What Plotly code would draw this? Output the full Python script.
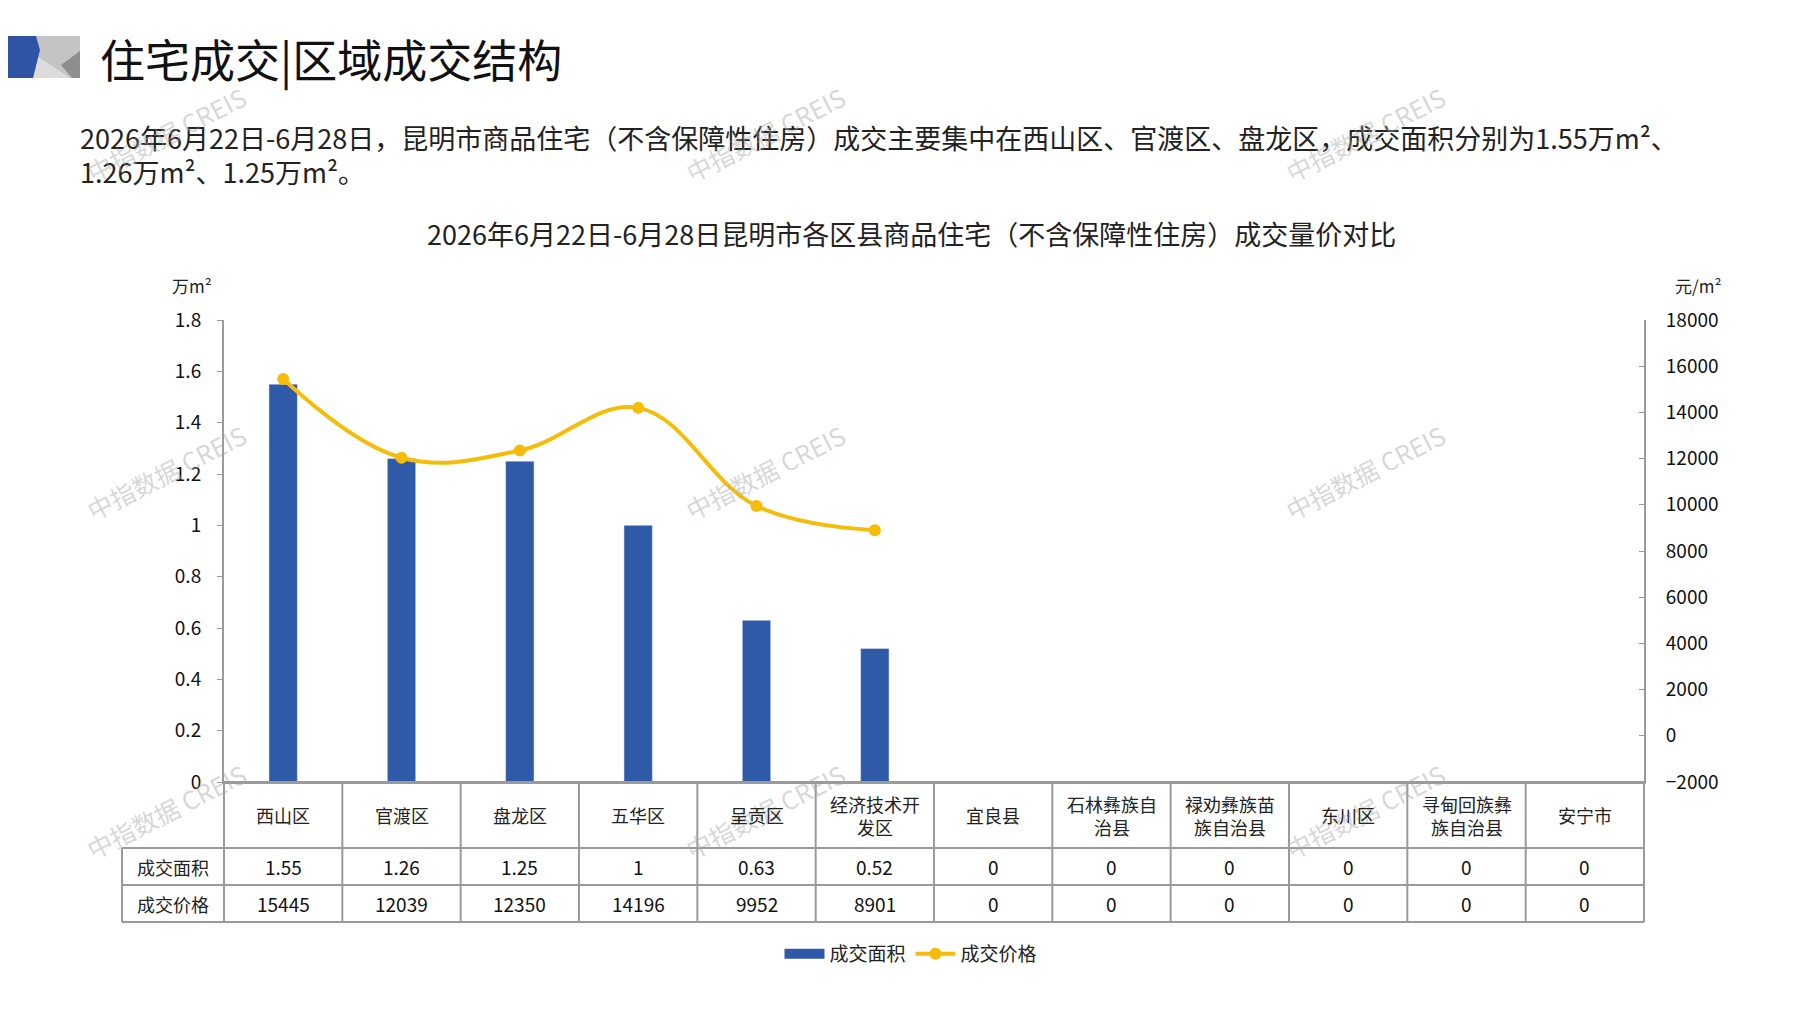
import plotly.graph_objects as go

# ---- data ----
districts = ["西山区", "官渡区", "盘龙区", "五华区", "呈贡区", "经济技术开发区",
             "宜良县", "石林彝族自治县", "禄劝彝族苗族自治县", "东川区",
             "寻甸回族彝族自治县", "安宁市"]
header_labels = ["西山区", "官渡区", "盘龙区", "五华区", "呈贡区", "经济技术开<br>发区",
                 "宜良县", "石林彝族自<br>治县", "禄劝彝族苗<br>族自治县", "东川区",
                 "寻甸回族彝<br>族自治县", "安宁市"]
area = [1.55, 1.26, 1.25, 1, 0.63, 0.52, 0, 0, 0, 0, 0, 0]          # 万m²
price = [15445, 12039, 12350, 14196, 9952, 8901, 0, 0, 0, 0, 0, 0]  # 元/m²

title_text = "住宅成交|区域成交结构"
para_lines = [
    "2026年6月22日-6月28日，昆明市商品住宅（不含保障性住房）成交主要集中在西山区、官渡区、盘龙区，成交面积分别为1.55万m²、",
    "1.26万m²、1.25万m²。",
]
chart_title = "2026年6月22日-6月28日昆明市各区县商品住宅（不含保障性住房）成交量价对比"

BLUE = "#2E5AA7"
GOLD = "#F5BD0A"
GRID = "#9A9A9A"
FONT = "Noto Sans CJK SC"

W, H = 1797, 1010
L, R, T, B = 216, 1636, 312, 774   # plot area in pixels


def px(x):
    return (x - L) / (R - L)


def py(y):
    return (B - y) / (B - T)


def label(x, y, text, size, color="#222", anchor="center", angle=0):
    return dict(x=px(x), y=py(y), xref="paper", yref="paper", text=text,
                showarrow=False, xanchor=anchor, yanchor="middle", textangle=angle,
                font=dict(size=size, color=color, family=FONT))


n = len(districts)

fig = go.Figure()
fig.add_trace(go.Bar(
    x=districts, y=area, name="成交面积", marker_color=BLUE, width=0.24, showlegend=False,
))
# legend stand-in so the bar key is drawn as a wide block
fig.add_trace(go.Scatter(
    x=[None], y=[None], name="成交面积", mode="lines", line=dict(color=BLUE, width=13),
))
fig.add_trace(go.Scatter(
    x=districts[:6], y=price[:6], name="成交价格", yaxis="y2",
    mode="lines+markers", line=dict(color=GOLD, width=4, shape="spline", smoothing=1.1),
    marker=dict(size=12, color=GOLD),
))

annotations = []
shapes = []

# header block
annotations.append(label(90, 50, title_text, 45, "#111", "left"))
for i, line in enumerate(para_lines):
    annotations.append(label(70, 129 + 34 * i, line, 27, "#222", "left"))
annotations.append(label(903, 225, chart_title, 27))
annotations.append(label(184, 277, "万m²", 17))
annotations.append(label(1690, 277, "元/m²", 17))


# logo
def poly(pts, color):
    d = "M " + " L ".join(f"{px(a)},{py(b)}" for a, b in pts) + " Z"
    shapes.append(dict(type="path", path=d, xref="paper", yref="paper",
                       fillcolor=color, line=dict(width=0), layer="above"))


poly([(0, 28), (72, 28), (72, 70), (0, 70)], "#C4C4C4")
poly([(26, 46), (62, 70), (24, 70)], "#DCDCDC")
poly([(72, 43), (72, 70), (64, 70), (53, 57)], "#8E8E8E")
poly([(0, 28), (28, 28), (32, 42), (25, 70), (0, 70)], "#3054A4")

# watermarks
for wy in (126, 464, 803):
    for wx in (158, 757, 1357):
        annotations.append(label(wx, wy, "中指数据 CREIS", 25, "rgba(165,165,165,0.45)",
                                 angle=-27))

# data table
rows = [B, 840, 877, 914]
lab_left = 114
cw = (R - L) / n
shapes.append(dict(type="line", xref="paper", yref="paper", x0=px(L), x1=px(R),
                   y0=py(rows[0]), y1=py(rows[0]), line=dict(color=GRID, width=2)))
for ry in rows[1:]:
    shapes.append(dict(type="line", xref="paper", yref="paper", x0=px(lab_left), x1=px(R),
                       y0=py(ry), y1=py(ry), line=dict(color=GRID, width=2)))
shapes.append(dict(type="line", xref="paper", yref="paper", x0=px(lab_left), x1=px(lab_left),
                   y0=py(rows[1]), y1=py(rows[3]), line=dict(color=GRID, width=2)))
for k in range(n + 1):
    xx = L + k * cw
    shapes.append(dict(type="line", xref="paper", yref="paper", x0=px(xx), x1=px(xx),
                       y0=py(rows[0]), y1=py(rows[3]), line=dict(color=GRID, width=2)))

row_names = ["成交面积", "成交价格"]
for j, name in enumerate(row_names):
    annotations.append(label((lab_left + L) / 2, (rows[j + 1] + rows[j + 2]) / 2, name, 18))
for i in range(n):
    cx = L + (i + 0.5) * cw
    annotations.append(label(cx, (rows[0] + rows[1]) / 2, header_labels[i], 18))
    annotations.append(label(cx, (rows[1] + rows[2]) / 2, f"{area[i]:g}", 19, "#111"))
    annotations.append(label(cx, (rows[2] + rows[3]) / 2, str(price[i]), 19, "#111"))

fig.update_layout(
    width=W, height=H,
    margin=dict(l=L, r=W - R, t=T, b=H - B, pad=0),
    paper_bgcolor="white", plot_bgcolor="white",
    font=dict(family=FONT, color="#222"),
    showlegend=True,
    legend=dict(orientation="h", x=px(903), y=py(946), xanchor="center", yanchor="middle",
                font=dict(size=19, family=FONT), itemwidth=40, traceorder="normal"),
    xaxis=dict(showticklabels=False, showline=True, linecolor=GRID, linewidth=2,
               ticks="", showgrid=False, zeroline=False, range=[-0.5, n - 0.5]),
    yaxis=dict(range=[0, 1.8], dtick=0.2, showgrid=False, zeroline=False,
               showline=True, linecolor=GRID, linewidth=2, ticks="outside", ticklen=5,
               tickcolor=GRID, ticklabelstandoff=12, tickfont=dict(size=19, color="#111")),
    yaxis2=dict(range=[-2000, 18000], dtick=2000, tickformat="d", overlaying="y", side="right",
                showgrid=False, zeroline=False, showline=True, linecolor=GRID, linewidth=2,
                ticks="inside", ticklen=5, tickcolor=GRID, ticklabelstandoff=16,
                tickfont=dict(size=19, color="#111")),
    annotations=annotations,
    shapes=shapes,
)

fig.write_html("out.html")
